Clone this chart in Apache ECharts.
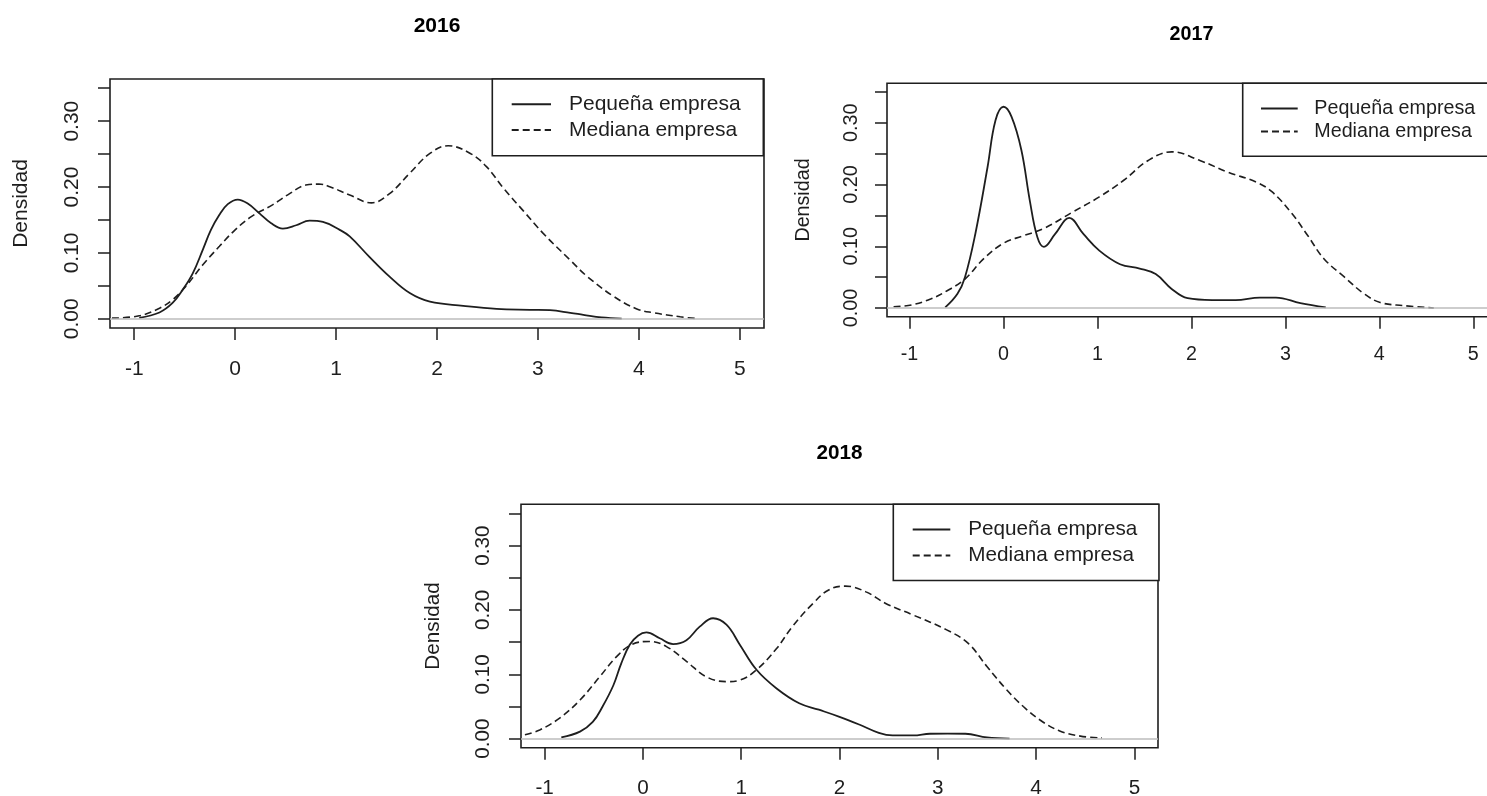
<!DOCTYPE html>
<html>
<head>
<meta charset="utf-8">
<script src="https://cdn.jsdelivr.net/npm/echarts@6/dist/echarts.min.js"></script>
<style>
  html, body { margin: 0; padding: 0; background: #ffffff; }
  #chart { width: 1487px; height: 796px; }
</style>
</head>
<body>
<div id="chart"></div>
<script>
// ---- Axis ticks and labels ----
const xTicks = [-1, 0, 1, 2, 3, 4, 5];
const yTicks = [0, 0.05, 0.10, 0.15, 0.20, 0.25, 0.30, 0.35];
const yLabelTicks = [0, 0.10, 0.20, 0.30];
const seriesNames = ['Pequeña empresa', 'Mediana empresa'];
const yAxisTitle = 'Densidad';
const years = ['2016', '2017', '2018'];

// ---- Density estimates: 2016 ----
const x2016Peq = [-0.95, -0.75, -0.62, -0.52, -0.42, -0.32, -0.24, -0.156, -0.073, 0.026, 0.125, 0.241, 0.357, 0.473, 0.605, 0.738, 0.87, 1.036, 1.135, 1.33, 1.53, 1.73, 1.93, 2.26, 2.59, 2.92, 3.12, 3.32, 3.45, 3.63, 3.83];
const y2016Peq = [0.0015, 0.0096, 0.024, 0.044, 0.069, 0.105, 0.135, 0.158, 0.174, 0.181, 0.175, 0.160, 0.145, 0.137, 0.142, 0.149, 0.147, 0.135, 0.125, 0.094, 0.064, 0.039, 0.026, 0.0197, 0.015, 0.0136, 0.013, 0.009, 0.006, 0.002, 0.0003];
const x2016Med = [-1.22, -0.95, -0.75, -0.62, -0.49, -0.32, -0.156, 0.0, 0.16, 0.37, 0.54, 0.70, 0.83, 0.937, 1.135, 1.35, 1.53, 1.73, 1.93, 2.11, 2.33, 2.49, 2.66, 2.86, 3.05, 3.32, 3.49, 3.75, 3.98, 4.15, 4.41, 4.56];
const y2016Med = [0.001, 0.0045, 0.016, 0.029, 0.049, 0.082, 0.110, 0.135, 0.155, 0.173, 0.190, 0.203, 0.2045, 0.2005, 0.188, 0.176, 0.190, 0.221, 0.251, 0.2626, 0.251, 0.231, 0.198, 0.163, 0.130, 0.089, 0.064, 0.034, 0.015, 0.009, 0.003, 0.0005];

// ---- Density estimates: 2017 ----
const x2017Peq = [-0.62, -0.49, -0.41, -0.30, -0.17, -0.085, 0.00, 0.085, 0.19, 0.28, 0.36, 0.43, 0.55, 0.70, 0.85, 1.02, 1.24, 1.45, 1.62, 1.79, 1.96, 2.22, 2.47, 2.73, 2.90, 3.16, 3.43];
const y2017Peq = [0.001, 0.023, 0.050, 0.120, 0.228, 0.304, 0.326, 0.310, 0.256, 0.174, 0.115, 0.099, 0.120, 0.146, 0.120, 0.093, 0.071, 0.064, 0.055, 0.031, 0.016, 0.013, 0.013, 0.017, 0.017, 0.008, 0.001];
const x2017Med = [-1.17, -0.98, -0.77, -0.60, -0.41, -0.21, 0.00, 0.21, 0.43, 0.73, 1.02, 1.28, 1.54, 1.79, 2.09, 2.39, 2.69, 2.86, 3.07, 3.24, 3.41, 3.63, 3.84, 4.01, 4.26, 4.58];
const y2017Med = [0.002, 0.005, 0.015, 0.028, 0.047, 0.080, 0.105, 0.117, 0.129, 0.155, 0.180, 0.207, 0.239, 0.253, 0.239, 0.220, 0.204, 0.188, 0.153, 0.117, 0.080, 0.050, 0.023, 0.009, 0.004, 0.000];

// ---- Density estimates: 2018 ----
const x2018Peq = [-0.83, -0.64, -0.51, -0.41, -0.30, -0.22, -0.134, -0.05, 0.036, 0.171, 0.307, 0.443, 0.578, 0.714, 0.85, 0.986, 1.156, 1.36, 1.59, 1.79, 2.00, 2.20, 2.40, 2.54, 2.75, 2.92, 3.10, 3.28, 3.50, 3.73];
const y2018Peq = [0.002, 0.011, 0.026, 0.050, 0.083, 0.117, 0.146, 0.160, 0.165, 0.156, 0.147, 0.153, 0.174, 0.187, 0.177, 0.146, 0.107, 0.078, 0.055, 0.045, 0.034, 0.022, 0.009, 0.005, 0.005, 0.0077, 0.008, 0.0077, 0.002, 0.000];
const x2018Med = [-1.20, -1.05, -0.847, -0.64, -0.44, -0.27, -0.117, 0.069, 0.24, 0.443, 0.647, 0.85, 0.986, 1.156, 1.36, 1.52, 1.73, 1.89, 2.06, 2.27, 2.47, 2.75, 3.09, 3.31, 3.50, 3.70, 3.87, 4.04, 4.24, 4.45, 4.67];
const y2018Med = [0.006, 0.0135, 0.032, 0.060, 0.096, 0.127, 0.146, 0.151, 0.143, 0.120, 0.096, 0.0886, 0.091, 0.107, 0.140, 0.174, 0.210, 0.231, 0.237, 0.228, 0.210, 0.192, 0.169, 0.148, 0.112, 0.076, 0.050, 0.029, 0.012, 0.004, 0.001];

const pairs = (xs, ys) => xs.map((x, i) => [x, ys[i]]);

const curves = [
  { peq: pairs(x2016Peq, y2016Peq), med: pairs(x2016Med, y2016Med) },
  { peq: pairs(x2017Peq, y2017Peq), med: pairs(x2017Med, y2017Med) },
  { peq: pairs(x2018Peq, y2018Peq), med: pairs(x2018Med, y2018Med) }
];

// ---- Panel layout ----
const FONT = '"Liberation Sans", Arial, sans-serif';
const INK = '#1e1e1e';
const layout = [
  { grid: { left: 110, top: 79, width: 654, height: 249 }, font: 21, titleAt: [437, 26.7],
    legend: { left: 492.3, top: 79, padding: [14.8, 22.7, 15.2, 18.4], itemWidth: 39.3, textPad: 13, gap: 4.7 },
    xMargin: 31, yMargin: 27, nameGap: 78 },
  { grid: { left: 887, top: 83.3, width: 608.8, height: 233.4 }, font: 19.7, titleAt: [1191.5, 35],
    legend: { left: 1242.7, top: 83.3, padding: [15.1, 21, 14.8, 17.3], itemWidth: 36.7, textPad: 11.6, gap: 3 },
    xMargin: 28, yMargin: 25.5, nameGap: 73 },
  { grid: { left: 521, top: 504.3, width: 637, height: 243.4 }, font: 20.7, titleAt: [839.5, 453.3],
    legend: { left: 893.3, top: 504.3, padding: [14.6, 21.6, 14.6, 18.4], itemWidth: 37.6, textPad: 13, gap: 5 },
    xMargin: 30, yMargin: 27, nameGap: 77 }
];

const X_MIN = -1.24, X_MAX = 5.24;
const Y_MIN = -0.014, Y_MAX = 0.364;

const grids = [], xAxes = [], yAxes = [], series = [], legends = [], texts = [];

layout.forEach((p, i) => {
  grids.push(Object.assign({
    show: true, borderColor: INK, borderWidth: 1.6, backgroundColor: 'transparent',
    containLabel: false, outerBoundsMode: 'none'
  }, p.grid));

  xAxes.push({
    gridIndex: i, type: 'value', min: X_MIN, max: X_MAX, position: 'bottom',
    axisLine: { show: false, onZero: false },
    splitLine: { show: false },
    axisTick: { show: true, length: 12, customValues: xTicks, lineStyle: { color: INK, width: 1.5 } },
    axisLabel: { customValues: xTicks, margin: p.xMargin, fontSize: p.font, fontFamily: FONT, color: INK,
                 formatter: v => String(v) }
  });

  yAxes.push({
    gridIndex: i, type: 'value', min: Y_MIN, max: Y_MAX, position: 'left',
    name: yAxisTitle, nameLocation: 'middle', nameRotate: 90, nameGap: p.nameGap,
    nameTextStyle: { fontSize: p.font, fontFamily: FONT, color: INK },
    axisLine: { show: false, onZero: false },
    splitLine: { show: false },
    axisTick: { show: true, length: 12, customValues: yTicks, lineStyle: { color: INK, width: 1.5 } },
    axisLabel: { customValues: yLabelTicks, rotate: 90, margin: p.yMargin, fontSize: p.font, fontFamily: FONT, color: INK,
                 formatter: v => v.toFixed(2) }
  });

  const c = curves[i];
  series.push({
    name: seriesNames[0], type: 'line', xAxisIndex: i, yAxisIndex: i,
    data: c.peq, smooth: 0.4, symbol: 'none', showSymbol: false,
    lineStyle: { color: INK, width: 1.8, type: 'solid' },
    markLine: {
      silent: true, symbol: 'none', label: { show: false },
      lineStyle: { color: '#bdbdbd', type: 'solid', width: 1.5 },
      data: [{ yAxis: 0 }]
    }
  });
  series.push({
    name: seriesNames[1], type: 'line', xAxisIndex: i, yAxisIndex: i,
    data: c.med, smooth: 0.4, symbol: 'none', showSymbol: false,
    lineStyle: { color: INK, width: 1.6, type: [7, 4] }
  });

  legends.push({
    orient: 'vertical', left: p.legend.left, top: p.legend.top,
    padding: p.legend.padding, itemGap: p.legend.gap,
    itemWidth: p.legend.itemWidth, itemHeight: p.font,
    borderColor: INK, borderWidth: 1.6, backgroundColor: '#ffffff',
    selectedMode: false,
    itemStyle: { opacity: 0 },
    textStyle: { fontSize: p.font, fontFamily: FONT, color: INK, padding: [0, 0, 0, p.legend.textPad] },
    data: seriesNames
  });

  texts.push({
    type: 'text', x: p.titleAt[0], y: p.titleAt[1],
    style: { text: years[i], fontSize: p.font, fontWeight: 'bold', fontFamily: FONT, fill: '#000',
             align: 'center', verticalAlign: 'middle', textAlign: 'center', textVerticalAlign: 'middle' }
  });
});

const chart = echarts.init(document.getElementById('chart'), null, { renderer: 'canvas' });
chart.setOption({
  backgroundColor: '#ffffff',
  animation: false,
  grid: grids,
  xAxis: xAxes,
  yAxis: yAxes,
  legend: legends,
  series: series,
  graphic: texts
});
</script>
</body>
</html>
